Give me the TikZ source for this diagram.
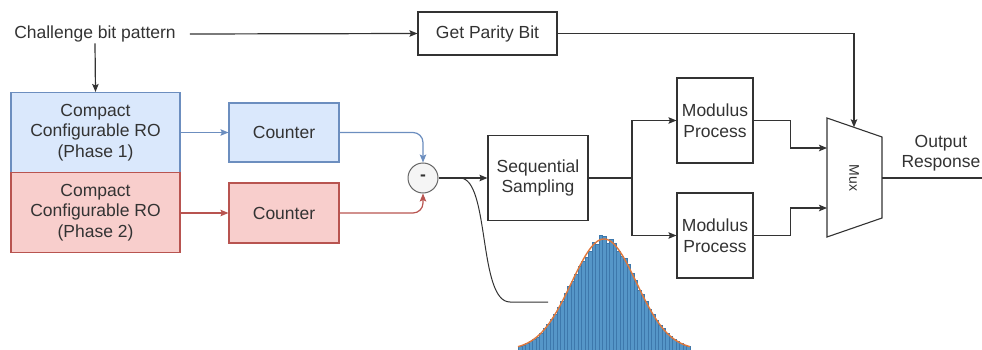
\documentclass[tikz,border=0pt]{standalone}
\usepackage{fontspec}
\setmainfont{Liberation Sans}
\usetikzlibrary{arrows.meta,calc}
\definecolor{ink}{HTML}{333333}
\definecolor{bluefill}{HTML}{DAE8FC}
\definecolor{blueline}{HTML}{6C8EBF}
\definecolor{redfill}{HTML}{F8CECC}
\definecolor{redline}{HTML}{B85450}
\definecolor{histbar}{HTML}{5596C8}
\definecolor{histedge}{HTML}{3D78AC}
\definecolor{fitcurve}{HTML}{E0783C}
\definecolor{opfill}{HTML}{F5F5F5}
\definecolor{opline}{HTML}{666666}

\begin{document}
\begin{tikzpicture}[x=1pt,y=-1pt,
  font=\fontsize{17.5}{20.5}\selectfont, text=ink,
  blk/.style={draw=ink, line width=1.1pt, fill=white, align=center, inner sep=0pt},
  wire/.style={draw=ink, line width=1.2pt},
  conn/.style={wire, -{Stealth[length=8pt,width=6.5pt,inset=1.5pt]}},
]
\useasboundingbox (0,0) rectangle (982,350);

% --- blocks ---
\node[inner sep=1pt] (chal) at (95,34) {Challenge bit pattern};
\node[blk, minimum width=139pt, minimum height=43pt] (par) at (487.5,33.5) {Get Parity Bit};

\node[blk, minimum width=169pt, minimum height=80pt, fill=bluefill, draw=blueline] (ro1) at (95.5,132.5) {Compact\\Configurable RO\\(Phase 1)};
\node[blk, minimum width=169pt, minimum height=80pt, fill=redfill, draw=redline] (ro2) at (95.5,212.5) {Compact\\Configurable RO\\(Phase 2)};

\node[blk, minimum width=110pt, minimum height=59pt, fill=bluefill, draw=blueline] (c1) at (284,132.5) {Counter};
\node[blk, minimum width=110pt, minimum height=60pt, fill=redfill, draw=redline] (c2) at (284,213) {Counter};

\node[circle, draw=opline, fill=opfill, line width=1pt, minimum size=30pt, inner sep=0pt, font=\fontsize{17.5}{20.5}\selectfont\bfseries] (minus) at (423,178) {-};

\node[blk, minimum width=100pt, minimum height=85pt] (seq) at (538,178) {Sequential\\Sampling};

\node[blk, minimum width=76pt, minimum height=85pt] (mod1) at (715,120.5) {Modulus\\Process};
\node[blk, minimum width=76pt, minimum height=85pt] (mod2) at (715,235.5) {Modulus\\Process};

% multiplexer
\draw[draw=ink, line width=1.1pt, fill=white] (827,118) -- (882,137) -- (882,218) -- (827,237) -- cycle;
\node[rotate=-90, font=\fontsize{14}{16}\selectfont] (mux) at (854,178) {Mux};
\coordinate (muxin1) at (827,148);
\coordinate (muxin2) at (827,208);
\coordinate (muxtop) at (854,127.3);
\coordinate (muxout) at (882,178);
\coordinate (outend) at (982,178);
\node[align=center, inner sep=0pt] (out) at (941,153) {Output\\Response};

% --- histogram of the difference values ---
\pgfmathsetseed{42}
\foreach \i in {-24,...,24}{
  \pgfmathsetmacro{\cx}{604+3.5*\i}
  \pgfmathsetmacro{\h}{111*exp(-((3.5*\i)^2)/2112)*(1+0.04*rand)}
  \fill[histbar, draw=histedge, line width=0.35pt] (\cx-1.75,350) rectangle (\cx+1.75,350-\h);
}
\draw[fitcurve, line width=1.4pt] plot[domain=518:690, samples=90, smooth] (\x, {350-111*exp(-((\x-604)^2)/2112)});
\coordinate (hist) at (548,302);

% --- connectors ---
\draw[conn] ([xshift=13pt]chal.east) -- (par.west);
\draw[conn] (par.east) -| (muxtop);
\draw[conn] (chal.south) -- (ro1.north);

\draw[conn, draw=blueline] (ro1.east) -- (c1.west);
\draw[conn, draw=redline] (ro2.east |- c2.west) -- (c2.west);
\draw[conn, draw=blueline, rounded corners=10pt] (c1.east) -| (minus.north);
\draw[conn, draw=redline, rounded corners=10pt] (c2.east) -| (minus.south);

\draw[conn] (minus.east) -- (seq.west);
\coordinate (tap) at (460,178);
\draw[draw=ink, line width=1pt] (tap) .. controls (490,178) and (478,302) .. (510,302) -- (hist);

\coordinate (split) at (632,178);
\draw[wire] (seq.east) -- (split);
\draw[conn] (split) |- (mod1.west);
\draw[conn] (split) |- (mod2.west);

\draw[conn] (mod1.east) -| ($(mod1.east)!.5!(muxin1)$) |- (muxin1);
\draw[conn] (mod2.east) -| ($(mod2.east)!.5!(muxin2)$) |- (muxin2);

\draw[wire] (muxout) -- (outend);
\end{tikzpicture}
\end{document}
